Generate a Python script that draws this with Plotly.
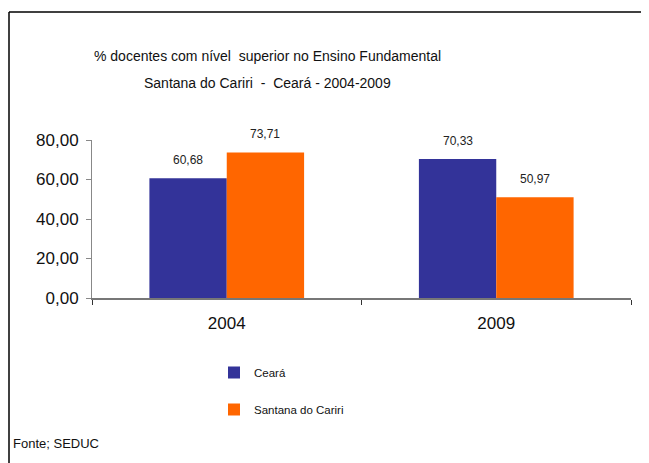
import plotly.graph_objects as go

# Data
anos = ['2004', '2009']
ceara = [60.68, 70.33]
santana = [73.71, 50.97]
series_nomes = ['Ceará', 'Santana do Cariri']
cores = ['#333399', '#FF6600']

W, H = 649, 463
OFF = 8  # page body margin of the browser
L, R, T, B = 84, 26, 132, 173
PW, PH = W - L - R, H - T - B


def px_x(p):
    return (p - OFF - L) / PW


def px_y(p):
    return (H - B - (p - OFF)) / PH


def fmt(v):
    return f'{v:.2f}'.replace('.', ',')


FONT = 'Liberation Sans, Arial'

fig = go.Figure()
for i, (nome, vals) in enumerate(zip(series_nomes, [ceara, santana])):
    fig.add_trace(go.Bar(
        name=nome, x=anos, y=vals,
        marker=dict(color=cores[i], line=dict(width=0)),
        legendgroup=nome,
    ))

# value labels above bars (category index on x)
bar_px = PW / len(anos) * (1 - 0.426) / 2
for i, vals in enumerate([ceara, santana]):
    for j, v in enumerate(vals):
        fig.add_annotation(
            x=j, y=v, xref='x', yref='y', text=fmt(v), showarrow=False,
            xshift=(i - 0.5) * bar_px, yshift=18,
            font=dict(size=12, color='#222222', family=FONT),
        )

# title
fig.add_annotation(x=px_x(267), y=px_y(56), xref='paper', yref='paper',
                   text='% docentes com nível  superior no Ensino Fundamental',
                   showarrow=False, xanchor='center', yanchor='middle',
                   font=dict(size=14, color='#111111', family=FONT))
fig.add_annotation(x=px_x(267), y=px_y(83), xref='paper', yref='paper',
                   text='Santana do Cariri  -  Ceará - 2004-2009',
                   showarrow=False, xanchor='center', yanchor='middle',
                   font=dict(size=14, color='#111111', family=FONT))

# source note
fig.add_annotation(x=px_x(11), y=px_y(443), xref='paper', yref='paper',
                   text='Fonte; SEDUC', showarrow=False,
                   xanchor='left', yanchor='middle',
                   font=dict(size=13, color='#111111', family=FONT))

# outer frame (left and top only visible)
fig.add_shape(type='line', xref='paper', yref='paper',
              x0=px_x(9), x1=px_x(9), y0=px_y(480), y1=px_y(12),
              line=dict(color='black', width=1.5))
fig.add_shape(type='line', xref='paper', yref='paper',
              x0=px_x(9), x1=px_x(670), y0=px_y(12), y1=px_y(12),
              line=dict(color='black', width=1.5))

fig.update_layout(
    width=W, height=H,
    margin=dict(l=L, r=R, t=T, b=B, autoexpand=False),
    paper_bgcolor='white', plot_bgcolor='white',
    separators=',.',
    barmode='group', bargap=0.426, bargroupgap=0,
    font=dict(family=FONT, color='#111111'),
    showlegend=True,
    legend=dict(x=px_x(214), y=px_y(358), xanchor='left', yanchor='top',
                font=dict(size=11.5, color='#111111', family=FONT),
                tracegroupgap=18, bgcolor='rgba(0,0,0,0)'),
    xaxis=dict(
        type='category', automargin=False, range=[-0.5, 1.5],
        showline=True, linecolor='#777777', linewidth=1.5,
        ticks='outside', tickson='boundaries', ticklen=5, tickcolor='#333333',
        tickfont=dict(size=17, color='#111111'), ticklabelstandoff=9,
        tickangle=0, showgrid=False,
    ),
    yaxis=dict(
        range=[0, 80], dtick=20, tickformat='.2f', automargin=False,
        showline=True, linecolor='#888888', linewidth=1,
        ticks='outside', ticklen=5, tickcolor='#888888',
        tickfont=dict(size=17, color='#111111'), ticklabelstandoff=4,
        showgrid=False, zeroline=False,
    ),
)

fig.write_html('out.html')
